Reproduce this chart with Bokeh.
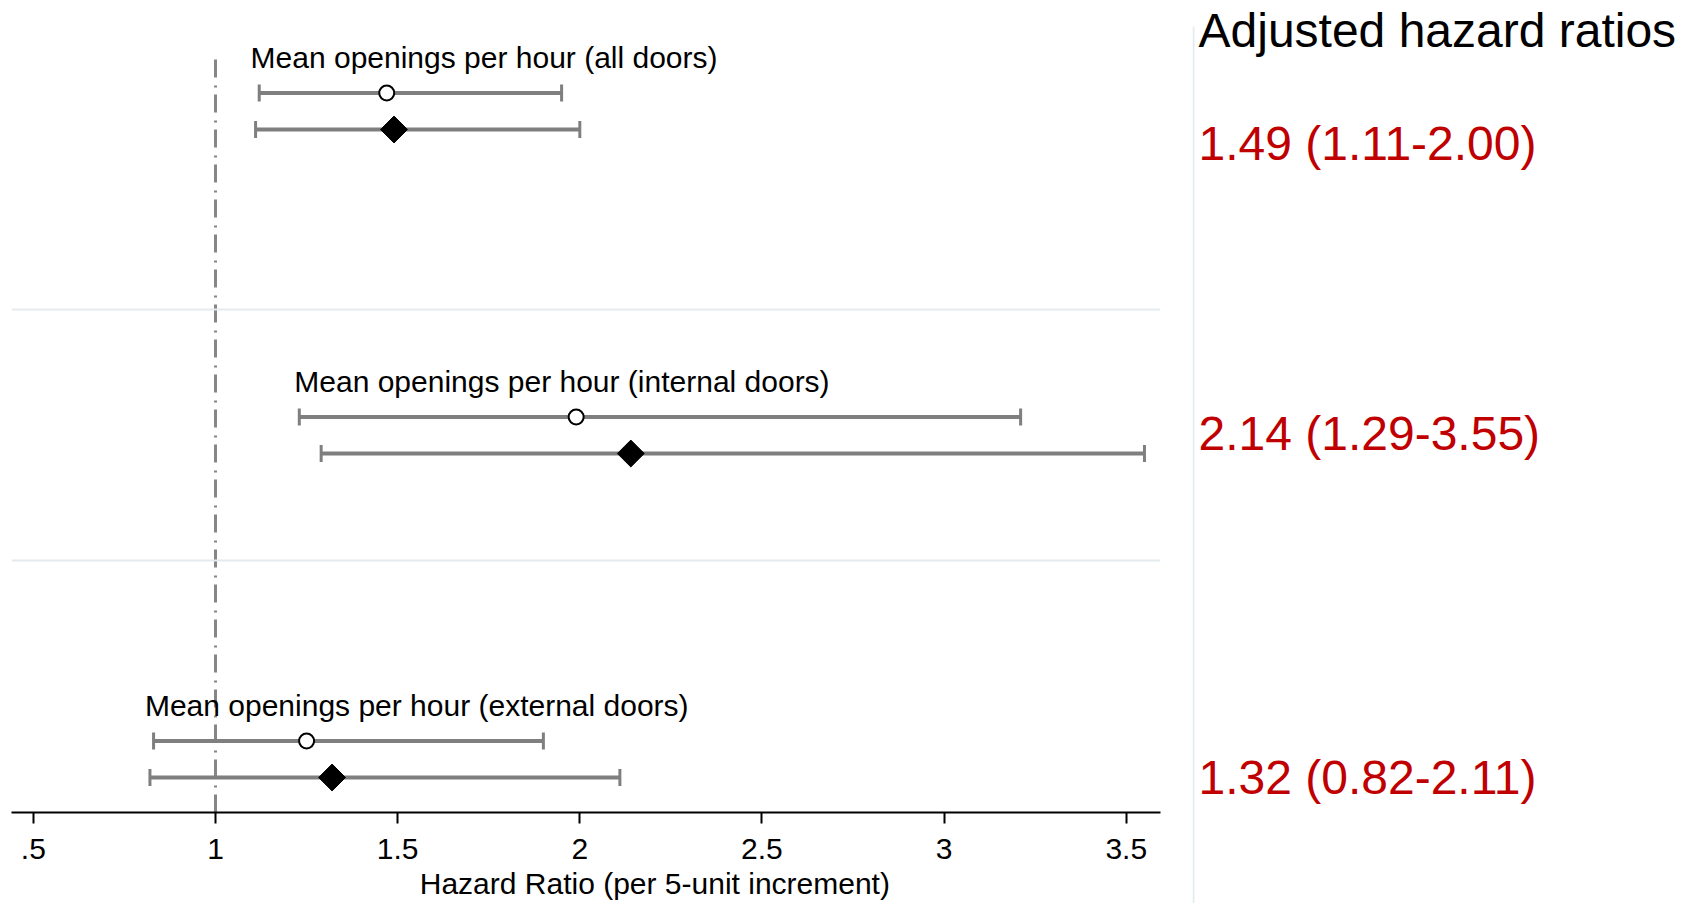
import numpy as np
from bokeh.plotting import figure
from bokeh.models import Range1d, Span, FixedTicker, LinearAxis
from bokeh.layouts import row
from bokeh.embed import file_html
from bokeh.resources import INLINE
from bokeh.core.properties import value

# ---------------- data ----------------
groups = [
    "Mean openings per hour (all doors)",
    "Mean openings per hour (internal doors)",
    "Mean openings per hour (external doors)",
]
hr_unadj = [1.47, 1.99, 1.25]
lo_unadj = [1.12, 1.23, 0.83]
hi_unadj = [1.95, 3.21, 1.90]
hr_adj = [1.49, 2.14, 1.32]
lo_adj = [1.11, 1.29, 0.82]
hi_adj = [2.00, 3.55, 2.11]
x_ticks = [0.5, 1, 1.5, 2, 2.5, 3, 3.5]
x_tick_labels = [".5", "1", "1.5", "2", "2.5", "3", "3.5"]
ref_value = 1.0
x_title = "Hazard Ratio (per 5-unit increment)"
panel_title = "Adjusted hazard ratios"

# ---------------- layout ----------------
FONT = value("Liberation Sans")
H = 903
W_LEFT = 1192
W_RIGHT = 497
FRAME_H = 812
n = len(groups)
y_diam = [35 + (n - 1 - i) * 324 for i in range(n)]
y_circ = [y + 36.5 for y in y_diam]
y_lab = [y + 72.5 for y in y_diam]
cap = 8.5
sep_y = [503, 252]
title_pos = 2.206   # horizontal centre of the x-axis title (layout only)

p = figure(width=W_LEFT, height=H, x_range=Range1d(0.44, 3.594),
           y_range=Range1d(0, FRAME_H), output_backend="svg",
           toolbar_location=None, y_axis_type=None,
           min_border_left=11, min_border_right=32, min_border_top=0,
           min_border_bottom=H - FRAME_H)
p.outline_line_color = None
p.grid.grid_line_color = None
p.frame_align = False

xa = p.xaxis[0]
xa.ticker = FixedTicker(ticks=x_ticks)
xa.major_label_overrides = {t: l for t, l in zip(x_ticks, x_tick_labels)}
xa.axis_line_color = "black"
xa.axis_line_width = 2.2
xa.major_tick_line_color = "black"
xa.major_tick_line_width = 2
xa.major_tick_out = 11
xa.major_tick_in = 0
xa.minor_tick_line_color = None
xa.major_label_text_font = "Liberation Sans"
xa.major_label_text_font_size = "30px"
xa.major_label_text_color = "black"
xa.major_label_standoff = 15

# title line under the tick labels, placed like the reference
ta = LinearAxis(ticker=FixedTicker(ticks=[title_pos]),
                major_label_overrides={title_pos: x_title},
                axis_line_color=None, major_tick_line_color=None,
                minor_tick_line_color=None, major_tick_out=0, major_tick_in=0,
                minor_tick_out=0, minor_tick_in=0, major_label_standoff=5,
                major_label_text_font="Liberation Sans",
                major_label_text_font_size="30px", major_label_text_color="black")
p.add_layout(ta, "below")

for s in sep_y:
    p.add_layout(Span(location=s, dimension="width", line_color="#E4ECEF", line_width=2))

# reference line
p.segment(x0=[ref_value], y0=[0], x1=[ref_value], y1=[y_lab[0] - 1],
          line_color="#868686", line_width=3, line_dash="18 7 2 8")

ci_col = "#7f7f7f"
for lo, hi, yy in ((lo_unadj, hi_unadj, y_circ), (lo_adj, hi_adj, y_diam)):
    p.segment(x0=lo, y0=yy, x1=hi, y1=yy, line_color=ci_col, line_width=4)
    p.segment(x0=lo, y0=[y - cap for y in yy], x1=lo, y1=[y + cap for y in yy],
              line_color=ci_col, line_width=3)
    p.segment(x0=hi, y0=[y - cap for y in yy], x1=hi, y1=[y + cap for y in yy],
              line_color=ci_col, line_width=3)

p.scatter(x=hr_unadj, y=y_circ, marker="circle", size=15, fill_color="white",
          line_color="black", line_width=2)
p.scatter(x=hr_adj, y=y_diam, marker="square", angle=np.pi / 4, size=19,
          fill_color="black", line_color="black")

label_x = [min(a, b) for a, b in zip(lo_unadj, lo_adj)]
p.text(x=label_x, y=y_lab, text=groups, text_font=FONT, text_font_size="30px",
       text_baseline="middle", text_align="left", x_offset=-5, text_color="black")

# ---------------- right panel ----------------
q = figure(width=W_RIGHT, height=H, x_range=Range1d(0, W_RIGHT), y_range=Range1d(H, 0),
           output_backend="svg", toolbar_location=None, x_axis_type=None,
           y_axis_type=None, min_border=0)
q.outline_line_color = None
q.grid.grid_line_color = None
q.frame_align = False
q.segment(x0=[1], y0=[26], x1=[1], y1=[H], line_color="#E4ECEF", line_width=2)

ratio_texts = [f"{h:.2f} ({l:.2f}-{u:.2f})" for h, l, u in zip(hr_adj, lo_adj, hi_adj)]
ratio_y = [143, 433, 777]
q.text(x=[6], y=[29.5], text=[panel_title], text_font=FONT, text_font_size="48px",
       text_baseline="middle", text_color="black")
q.text(x=[6] * n, y=ratio_y, text=ratio_texts, text_font=FONT, text_font_size="48px",
       text_baseline="middle", text_color="#C00000")

layout = row(p, q)
open("out.html", "w").write(file_html(layout, INLINE))
